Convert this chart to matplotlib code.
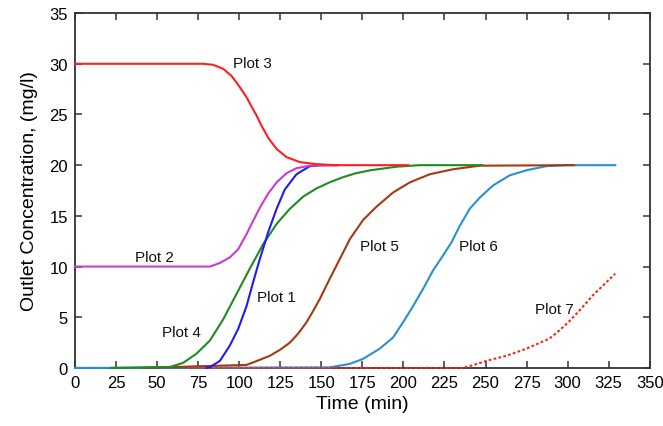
import matplotlib
matplotlib.use("Agg")
import matplotlib.pyplot as plt

plt.rcParams['font.family'] = ['Liberation Sans', 'DejaVu Sans']

# Plot 1 (blue)
t1 = [80, 82.2, 88.3, 94.3, 99.4, 104.5, 108.5, 112.6, 117.7, 122.8, 127.8, 134.9, 143, 150, 160]
c1 = [0, 0.07, 0.7, 2.2, 3.85, 6.1, 8.45, 10.75, 13.4, 15.7, 17.6, 19.1, 19.9, 20.0, 20.0]
# Plot 2 (magenta)
t2 = [0, 82.2, 88.3, 94.3, 99.4, 104.5, 108.5, 112.6, 117.7, 122.8, 128.8, 134.9, 143, 160]
c2 = [10, 10, 10.35, 10.9, 11.7, 13.2, 14.5, 15.8, 17.2, 18.3, 19.2, 19.7, 19.95, 20.0]
# Plot 3 (red)
t3 = [0, 78, 84.2, 90.3, 95.4, 100.4, 104.5, 107.5, 110.6, 113.6, 117.7, 122.8, 128.8, 137, 147, 159, 203]
c3 = [30, 30, 29.9, 29.5, 28.8, 27.7, 26.7, 25.8, 24.9, 23.9, 22.7, 21.6, 20.8, 20.3, 20.1, 20.0, 20.0]
# Plot 4 (green)
t4 = [22, 58, 65.9, 74, 82.2, 90.3, 98.4, 106.5, 114.6, 122.8, 130.9, 139, 147, 155, 163, 171, 180, 196, 210, 248]
c4 = [0, 0.1, 0.5, 1.4, 2.7, 4.8, 7.3, 9.8, 12.2, 14.2, 15.7, 16.9, 17.7, 18.3, 18.8, 19.2, 19.5, 19.85, 20.0, 20.0]
# Plot 5 (brown)
t5 = [41, 104.5, 111, 118.7, 125, 130.9, 136, 141, 145, 149.1, 155.2, 161.3, 167.4, 175.5, 183.6,
      193.7, 203.9, 216, 230.3, 246.5, 304]
c5 = [0, 0.3, 0.7, 1.2, 1.8, 2.5, 3.4, 4.5, 5.6, 6.8, 8.8, 10.75, 12.7, 14.6, 15.9,
      17.3, 18.3, 19.1, 19.6, 19.95, 20.0]
# Plot 6 (light blue)
t6 = [0, 155, 167.4, 175.5, 185.6, 193.7, 199.8, 205.9, 212, 218, 224.2, 229.3, 234.3, 240.4,
      246.5, 254.6, 264.8, 275, 287, 300, 329]
c6 = [0, 0.05, 0.4, 0.9, 1.9, 3.0, 4.5, 6.1, 7.8, 9.6, 11.1, 12.4, 14.0, 15.7,
      16.8, 18.0, 19.0, 19.5, 19.9, 20.0, 20.0]
# Plot 7 (red dotted)
t7 = [70, 236, 243, 250.6, 262.7, 275, 289, 295, 301, 308, 315, 322, 329]
c7 = [0, 0, 0.3, 0.7, 1.2, 1.9, 2.9, 3.7, 4.6, 5.8, 7.1, 8.2, 9.3]

labels = ["Plot 1", "Plot 2", "Plot 3", "Plot 4", "Plot 5", "Plot 6", "Plot 7"]
label_t = [111, 36.5, 96, 53, 173.5, 234, 280]
label_c = [7.0, 10.9, 30.1, 3.5, 12.0, 12.0, 5.8]

xticks = list(range(0, 351, 25))
yticks = list(range(0, 36, 5))

fig = plt.figure(figsize=(6.63, 4.27), dpi=100)
ax = fig.add_axes([0.113, 0.136, 0.867, 0.831])

lw = 1.5
kw = dict(lw=lw, clip_on=False, solid_joinstyle='round', zorder=3)
ax.plot(t6, c6, color='#2b8fd6', **kw)
ax.plot(t5, c5, color='#a23a12', **kw)
ax.plot(t7, c7, color='#ee2a1a', ls=(0, (1.3, 1.1)), lw=lw, clip_on=False, zorder=3)
ax.plot(t4, c4, color='#1e8c1e', **kw)
ax.plot(t1, c1, color='#1c1cf5', **kw)
ax.plot(t2, c2, color='#c93ccf', **kw)
ax.plot(t3, c3, color='#ff1f1f', **kw)

for s, x, y in zip(labels, label_t, label_c):
    ax.text(x, y, s, fontsize=11, ha='left', va='center', color='#111111')

ax.set_xlim(0, 350)
ax.set_ylim(0, 35)
ax.set_xticks(xticks)
ax.set_yticks(yticks)
ax.tick_params(direction='in', top=True, right=True, length=5, width=1.1,
               labelsize=12, color='#333333', pad=5)
for sp in ax.spines.values():
    sp.set_linewidth(1.3)
    sp.set_color('#333333')
ax.set_xlabel("Time (min)", fontsize=14, labelpad=4)
ax.set_ylabel("Outlet Concentration, (mg/l)", fontsize=14, labelpad=8)

fig.savefig("out.png", dpi=100)
